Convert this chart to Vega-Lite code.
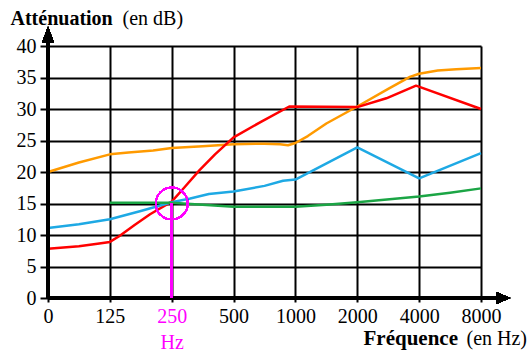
{
  "$schema": "https://vega.github.io/schema/vega-lite/v6.json",
  "width": 433,
  "height": 252,
  "autosize": "none",
  "padding": {"left": 48, "top": 46, "right": 48, "bottom": 58},
  "background": "white",
  "config": {"view": {"stroke": null}, "font": "Times New Roman, Liberation Serif, serif"},
  "data": {"values": [
    {"series": "orange", "x": 0, "y": 20.0},
    {"series": "orange", "x": 0.5, "y": 21.5},
    {"series": "orange", "x": 1, "y": 22.8},
    {"series": "orange", "x": 1.3, "y": 23.1},
    {"series": "orange", "x": 1.7, "y": 23.4},
    {"series": "orange", "x": 2, "y": 23.8},
    {"series": "orange", "x": 2.5, "y": 24.1},
    {"series": "orange", "x": 3, "y": 24.4},
    {"series": "orange", "x": 3.5, "y": 24.5},
    {"series": "orange", "x": 3.75, "y": 24.4},
    {"series": "orange", "x": 3.88, "y": 24.25},
    {"series": "orange", "x": 4.0, "y": 24.6},
    {"series": "orange", "x": 4.2, "y": 25.7},
    {"series": "orange", "x": 4.5, "y": 27.7},
    {"series": "orange", "x": 5, "y": 30.4},
    {"series": "orange", "x": 5.5, "y": 33.2},
    {"series": "orange", "x": 5.85, "y": 35.1},
    {"series": "orange", "x": 6, "y": 35.6},
    {"series": "orange", "x": 6.3, "y": 36.1},
    {"series": "orange", "x": 6.6, "y": 36.3},
    {"series": "orange", "x": 7, "y": 36.5},
    {"series": "rouge", "x": 0, "y": 7.8},
    {"series": "rouge", "x": 0.5, "y": 8.2},
    {"series": "rouge", "x": 0.8, "y": 8.6},
    {"series": "rouge", "x": 1, "y": 8.9},
    {"series": "rouge", "x": 1.15, "y": 9.8},
    {"series": "rouge", "x": 1.4, "y": 11.6},
    {"series": "rouge", "x": 1.65, "y": 13.3},
    {"series": "rouge", "x": 2, "y": 15.3},
    {"series": "rouge", "x": 2.2, "y": 17.5},
    {"series": "rouge", "x": 2.45, "y": 20.3},
    {"series": "rouge", "x": 2.7, "y": 22.8},
    {"series": "rouge", "x": 3, "y": 25.5},
    {"series": "rouge", "x": 3.45, "y": 28.0},
    {"series": "rouge", "x": 3.9, "y": 30.4},
    {"series": "rouge", "x": 5, "y": 30.3},
    {"series": "rouge", "x": 5.47, "y": 31.7},
    {"series": "rouge", "x": 5.95, "y": 33.7},
    {"series": "rouge", "x": 7, "y": 30.0},
    {"series": "bleu", "x": 0, "y": 11.1},
    {"series": "bleu", "x": 0.5, "y": 11.7},
    {"series": "bleu", "x": 1, "y": 12.5},
    {"series": "bleu", "x": 1.5, "y": 13.8},
    {"series": "bleu", "x": 2, "y": 15.2},
    {"series": "bleu", "x": 2.3, "y": 15.8},
    {"series": "bleu", "x": 2.6, "y": 16.5},
    {"series": "bleu", "x": 3, "y": 16.9},
    {"series": "bleu", "x": 3.5, "y": 17.8},
    {"series": "bleu", "x": 3.8, "y": 18.6},
    {"series": "bleu", "x": 4, "y": 18.8},
    {"series": "bleu", "x": 4.1, "y": 19.3},
    {"series": "bleu", "x": 5, "y": 23.9},
    {"series": "bleu", "x": 6, "y": 19.0},
    {"series": "bleu", "x": 7, "y": 23.0},
    {"series": "vert", "x": 1, "y": 15.1},
    {"series": "vert", "x": 2, "y": 15.1},
    {"series": "vert", "x": 2.5, "y": 14.8},
    {"series": "vert", "x": 3, "y": 14.5},
    {"series": "vert", "x": 4, "y": 14.5},
    {"series": "vert", "x": 4.5, "y": 14.8},
    {"series": "vert", "x": 5, "y": 15.2},
    {"series": "vert", "x": 6, "y": 16.1},
    {"series": "vert", "x": 6.5, "y": 16.7},
    {"series": "vert", "x": 7, "y": 17.4}
  ]},
  "resolve": {"scale": {"x": "shared", "y": "shared"}, "axis": {"x": "independent", "y": "independent"}},
  "layer": [
    {
      "mark": {"type": "line", "strokeWidth": 2.5, "interpolate": "linear", "strokeJoin": "round"},
      "encoding": {
        "x": {"field": "x", "type": "quantitative",
          "scale": {"domain": [0, 7], "nice": false, "zero": false},
          "axis": {"orient": "bottom", "values": [0, 1, 2, 3, 4, 5, 6, 7],
            "grid": true, "gridColor": "black", "gridWidth": 2, "gridOpacity": 1,
            "domain": false, "ticks": true, "tickSize": 4, "tickColor": "black", "tickWidth": 2,
            "labelFont": "Times New Roman, Liberation Serif, serif", "labelFontSize": 20, "labelColor": {"condition": {"test": "datum.value == 2", "value": "#FF00FF"}, "value": "black"},
            "labelPadding": 4, "labelLineHeight": 26, "labelFlush": false, "labelOverlap": false,
            "labelExpr": "datum.value == 2 ? ['250', 'Hz'] : ['0','125','250','500','1000','2000','4000','8000'][datum.value]",
            "title": "Fréquence", "titleFont": "Times New Roman, Liberation Serif, serif", "titleFontSize": 21, "titleFontWeight": "bold", "titleColor": "black",
            "titleAnchor": "start", "titleAlign": "left", "titleBaseline": "alphabetic", "titleX": 315, "titleY": 46}},
        "y": {"field": "y", "type": "quantitative",
          "scale": {"domain": [0, 40], "nice": false, "zero": true},
          "axis": {"orient": "left", "values": [0, 5, 10, 15, 20, 25, 30, 35, 40],
            "grid": true, "gridColor": "black", "gridWidth": 2, "gridOpacity": 1,
            "domain": false, "ticks": true, "tickSize": 8, "tickColor": "black", "tickWidth": 2,
            "labelFont": "Times New Roman, Liberation Serif, serif", "labelFontSize": 20, "labelColor": "black", "labelPadding": 4, "labelFlush": false, "labelOverlap": false,
            "title": "Atténuation", "titleFont": "Times New Roman, Liberation Serif, serif", "titleFontSize": 20, "titleFontWeight": "bold", "titleColor": "black",
            "titleAngle": 0, "titleAlign": "left", "titleBaseline": "alphabetic", "titleAnchor": "start", "titleX": -38, "titleY": -22}},
        "color": {"field": "series", "type": "nominal",
          "scale": {"domain": ["vert", "bleu", "orange", "rouge"], "range": ["#1BA545", "#1EA9E4", "#FF9A00", "#FF0000"]},
          "legend": null}
      }
    },
    {
      "mark": {"type": "rule", "strokeWidth": 3, "color": "black", "clip": false},
      "encoding": {
        "x": {"datum": 0, "type": "quantitative", "axis": null},
        "y": {"datum": 0, "type": "quantitative", "axis": null},
        "y2": {"datum": 41}
      }
    },
    {
      "mark": {"type": "rule", "strokeWidth": 3, "color": "black", "clip": false},
      "encoding": {
        "x": {"datum": 0, "type": "quantitative", "axis": null},
        "x2": {"datum": 7.25},
        "y": {"datum": 0, "type": "quantitative", "axis": null}
      }
    },
    {
      "mark": {"type": "point", "shape": "M0,-1L0.75,1L-0.75,1Z", "filled": true, "color": "black", "opacity": 1, "size": 256, "clip": false},
      "encoding": {
        "x": {"datum": 0, "type": "quantitative", "axis": null},
        "y": {"datum": 41.8, "type": "quantitative", "axis": null}
      }
    },
    {
      "mark": {"type": "point", "shape": "M1,0L-1,0.85L-1,-0.85Z", "filled": true, "color": "black", "opacity": 1, "size": 196, "clip": false},
      "encoding": {
        "x": {"datum": 7.36, "type": "quantitative", "axis": null},
        "y": {"datum": 0, "type": "quantitative", "axis": null}
      }
    },
    {
      "mark": {"type": "rule", "strokeWidth": 2, "color": "#FF00FF"},
      "encoding": {
        "x": {"datum": 2, "type": "quantitative", "axis": null},
        "y": {"datum": 0, "type": "quantitative", "axis": null},
        "y2": {"datum": 15}
      }
    },
    {
      "mark": {"type": "point", "shape": "circle", "filled": false, "color": "#FF00FF", "strokeWidth": 1.5, "opacity": 1, "size": 1024},
      "encoding": {
        "x": {"datum": 2, "type": "quantitative",
          "axis": {"orient": "top", "labels": false, "ticks": false, "domain": false, "grid": false,
            "title": "(en Hz)", "titleFont": "Times New Roman, Liberation Serif, serif", "titleFontSize": 20, "titleFontWeight": "normal", "titleColor": "black",
            "titleAnchor": "start", "titleAlign": "left", "titleBaseline": "alphabetic", "titleX": 418, "titleY": 298}},
        "y": {"datum": 15, "type": "quantitative",
          "axis": {"orient": "right", "labels": false, "ticks": false, "domain": false, "grid": false,
            "title": "(en dB)", "titleFont": "Times New Roman, Liberation Serif, serif", "titleFontSize": 20, "titleFontWeight": "normal", "titleColor": "black",
            "titleAngle": 0, "titleAlign": "left", "titleBaseline": "alphabetic", "titleAnchor": "start", "titleX": -359, "titleY": -22}}
      }
    }
  ]
}
